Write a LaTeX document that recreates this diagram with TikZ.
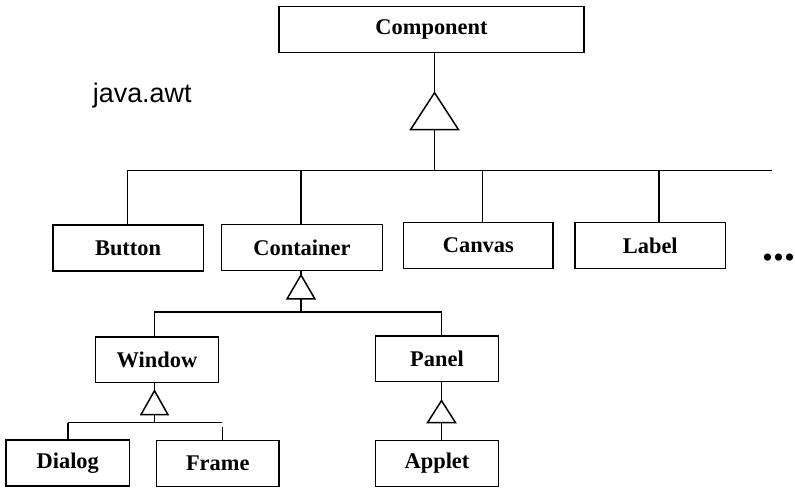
\documentclass[tikz,border=0pt]{standalone}
\usepackage{fontspec}
\setmainfont{Liberation Serif}
\newfontfamily\pkgfont{Liberation Sans}
\tikzset{
	cls/.style={draw, line width=1.5pt, inner sep=0pt, minimum height=46pt,
		font=\fontsize{22.5}{26}\selectfont\bfseries},
	link/.style={line width=1.5pt},
}
\begin{document}
\begin{tikzpicture}[x=1pt,y=-1pt]
			% Nền và khung
			\fill[white] (0,0) rectangle (795,489);
			% Tên gói
			\node[anchor=base west, inner sep=0pt, font=\pkgfont\fontsize{27}{30}\selectfont] (pkg) at (93,103) {java.awt};
			% Lớp gốc Component
			\node[cls, minimum width=306pt] (component) at (433,29.5) {Component};
			% Hàng thứ hai
			\node[cls, minimum width=151pt] (button) at (128.5,249) {Button};
			\node[cls, minimum width=162pt] (container) at (303,248.5) {Container};
			\node[cls, minimum width=150pt] (canvas) at (480,246.5) {Canvas};
			\node[cls, minimum width=151pt] (label) at (652.5,246.5) {Label};
			\node[anchor=base west, inner sep=0pt, font=\fontsize{44}{46}\selectfont\bfseries] (more) at (764.5,261) {...};
			% Hàng thứ ba
			\node[cls, minimum width=123pt] (window) at (157.5,361) {Window};
			\node[cls, minimum width=123pt] (panel) at (438.5,360) {Panel};
			% Hàng cuối
			\node[cls, minimum width=124pt] (dialog) at (68,464.5) {Dialog};
			\node[cls, minimum width=123pt] (frame) at (218.5,465) {Frame};
			\node[cls, minimum width=123pt] (applet) at (438.5,465) {Applet};
			% Tam giác kế thừa
			\coordinate (t0) at (436,93);  \coordinate (t0b) at (436,130);
			\coordinate (t1) at (302,276); \coordinate (t1b) at (302,300);
			\coordinate (t2) at (155,392); \coordinate (t2b) at (155,416);
			\coordinate (t3) at (443,402); \coordinate (t3b) at (443,424);
			\draw[link] (t0) -- ++(24,37) -- ++(-48,0) -- cycle;
			\draw[link] (t1) -- ++(14,24) -- ++(-28,0) -- cycle;
			\draw[link] (t2) -- ++(13.5,24) -- ++(-27,0) -- cycle;
			\draw[link] (t3) -- ++(14,22) -- ++(-28,0) -- cycle;
			% Component và các lớp con
			\coordinate (bus0) at (436,171);
			\coordinate (b1) at (128,171);
			\coordinate (b2) at (302,171);
			\coordinate (b3) at (484,171);
			\coordinate (b4) at (661,171);
			\coordinate (b5) at (775,171);
			\draw[link] (component.south -| t0) -- (t0);
			\draw[link] (t0b) -- (bus0);
			\draw[link] (b1) -- (b5);
			\draw[link] (b1) -- (b1 |- button.north);
			\draw[link] (b2) -- (b2 |- container.north);
			\draw[link] (b3) -- (b3 |- canvas.north);
			\draw[link] (b4) -- (b4 |- label.north);
			% Container
			\coordinate (c1) at (155,313);
			\coordinate (c2) at (443,313);
			\draw[link] (container.south -| t1) -- (t1);
			\draw[link] (t1b) -- (t1b |- c1);
			\draw[link] (c1) -- (c2);
			\draw[link] (c1) -- (c1 |- window.north);
			\draw[link] (c2) -- (c2 |- panel.north);
			% Window
			\coordinate (w1) at (68,424);
			\coordinate (w2) at (223,424);
			\draw[link] (window.south -| t2) -- (t2);
			\draw[link] (t2b) -- (t2b |- w1);
			\draw[link] (w1) -- (w2);
			\draw[link] (w1) -- (w1 |- dialog.north);
			\draw[link] ([yshift=-4pt]w2) -- (w2 |- frame.north);
			% Panel
			\draw[link] (panel.south -| t3) -- (t3);
			\draw[link] (t3b) -- (t3b |- applet.north);
\end{tikzpicture}
\end{document}
